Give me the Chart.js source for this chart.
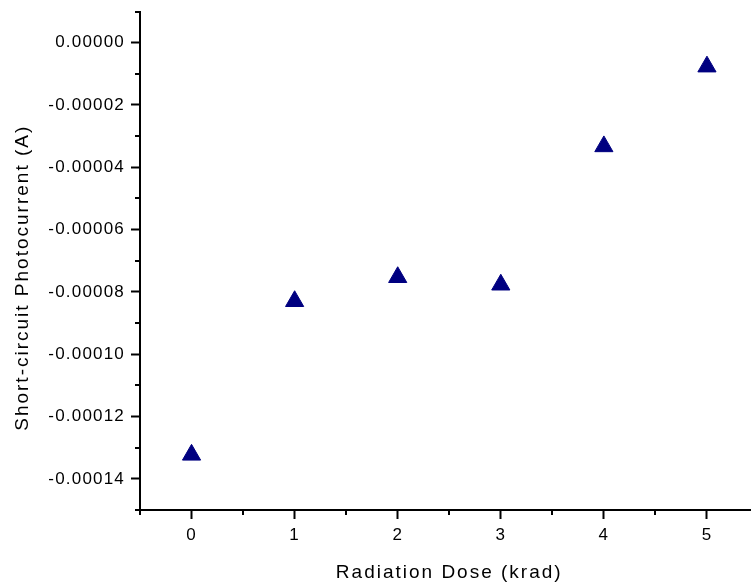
<!DOCTYPE html>
<html>
<head>
<meta charset="utf-8">
<script src="https://cdn.jsdelivr.net/npm/chart.js@4"></script>
<style>
  html, body { margin: 0; padding: 0; background: #fff; overflow: hidden; }
  canvas { display: block; }
</style>
</head>
<body>
<canvas id="grafico" width="770" height="585"></canvas>
<script>
// ===== dados =====
const doses = [0, 1, 2, 3, 4, 5];
const fotocorrente = [-0.0001323, -0.0000830, -0.0000753, -0.0000777, -0.0000333, -0.0000077];

const xTicks = [0, 1, 2, 3, 4, 5];
const xMinorTicks = [-0.5, 0.5, 1.5, 2.5, 3.5, 4.5, 5.5];
const yTicks = [0, -0.00002, -0.00004, -0.00006, -0.00008, -0.00010, -0.00012, -0.00014];
const yMinorTicks = [0.00001, -0.00001, -0.00003, -0.00005, -0.00007, -0.00009, -0.00011, -0.00013, -0.00015];

const fonte = 'Liberation Sans, Arial, sans-serif';

// ===== ticks menores (o Chart.js não tem) =====
const minorTicksPlugin = {
  id: 'minorTicks',
  afterDraw(chart) {
    const ctx = chart.ctx;
    const x = chart.scales.x, y = chart.scales.y;
    ctx.save();
    ctx.strokeStyle = '#000';
    ctx.lineWidth = 2;
    ctx.beginPath();
    xMinorTicks.forEach(v => {
      const px = Math.round(x.getPixelForValue(v));
      ctx.moveTo(px, y.bottom);
      ctx.lineTo(px, y.bottom + 5);
    });
    yMinorTicks.forEach(v => {
      const py = Math.round(y.getPixelForValue(v));
      ctx.moveTo(x.left, py);
      ctx.lineTo(x.left - 5, py);
    });
    ctx.stroke();
    ctx.restore();
  }
};

// ===== espaçamento das letras, como no Origin =====
const espacamentoPlugin = {
  id: 'espacamento',
  beforeDraw(chart) {
    Object.values(chart.scales).forEach(s => {
      if (s._espacado) return;
      s._espacado = true;
      const drawTitle = s.drawTitle.bind(s);
      const drawLabels = s.drawLabels.bind(s);
      s.drawTitle = (...args) => {
        const ctx = s.ctx;
        ctx.save();
        ctx.letterSpacing = '2px';
        if (s.id === 'y') ctx.translate(0, 17);
        drawTitle(...args);
        ctx.restore();
      };
      s.drawLabels = (...args) => {
        const ctx = s.ctx;
        ctx.save();
        ctx.letterSpacing = '1.2px';
        drawLabels(...args);
        ctx.restore();
      };
    });
  }
};

new Chart(document.getElementById('grafico').getContext('2d'), {
  type: 'scatter',
  data: {
    datasets: [{
      data: doses.map((d, i) => ({ x: d, y: fotocorrente[i] })),
      pointStyle: 'triangle',
      pointRadius: 10.5,
      pointBackgroundColor: '#000080',
      pointBorderColor: '#000080',
      pointBorderWidth: 1
    }]
  },
  options: {
    responsive: false,
    animation: false,
    layout: { padding: { top: 11, right: 11, left: 0, bottom: 0 } },
    plugins: { legend: { display: false }, tooltip: { enabled: false } },
    scales: {
      x: {
        type: 'linear',
        min: -0.5,
        max: 5.5,
        afterBuildTicks: s => { s.ticks = xTicks.map(v => ({ value: v })); },
        afterFit: s => { s.height = 75; s.paddingLeft = 0; s.paddingRight = 0; },
        grid: { drawOnChartArea: false, drawTicks: true, tickLength: 9, tickWidth: 2, tickColor: '#000' },
        border: { display: true, color: '#000', width: 2 },
        ticks: { color: '#000', font: { family: fonte, size: 17 }, padding: 6, maxRotation: 0 },
        title: { display: true, text: 'Radiation Dose (krad)', color: '#000', font: { family: fonte, size: 19 }, padding: { top: 4, bottom: 1 } }
      },
      y: {
        type: 'linear',
        min: -0.00015,
        max: 0.00001,
        afterBuildTicks: s => { s.ticks = yTicks.map(v => ({ value: v })); },
        afterFit: s => { s.width = 140; s.paddingTop = 0; s.paddingBottom = 0; },
        grid: { drawOnChartArea: false, drawTicks: true, tickLength: 9, tickWidth: 2, tickColor: '#000' },
        border: { display: true, color: '#000', width: 2 },
        ticks: { color: '#000', font: { family: fonte, size: 17 }, padding: 6, callback: v => v.toFixed(5) },
        title: { display: true, text: 'Short-circuit Photocurrent (A)', color: '#000', font: { family: fonte, size: 19 }, padding: { top: 11, bottom: 4 } }
      }
    }
  },
  plugins: [minorTicksPlugin, espacamentoPlugin]
});
</script>
</body>
</html>
